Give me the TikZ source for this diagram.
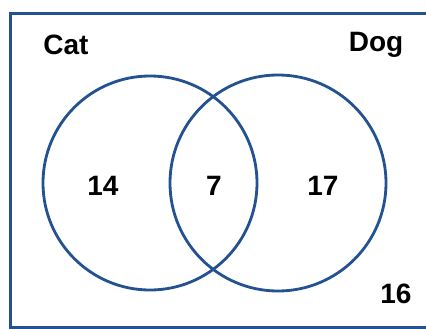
\documentclass[tikz,border=0pt]{standalone}
\usepackage{fontspec}
\setmainfont{Liberation Sans}
\definecolor{vblue}{HTML}{245190}
\tikzset{
  venn/.style={draw=vblue, line width=2.8pt},
  frame/.style={draw=vblue, line width=3pt},
  lbl/.style={font=\fontsize{28}{32}\selectfont\bfseries, text=black, inner sep=0pt}
}
\begin{document}
\begin{tikzpicture}[x=1pt,y=-1pt]
\useasboundingbox (0,0) rectangle (426,329);
\clip (0,0) rectangle (426,329);
\fill[white] (0,0) rectangle (426,329);
\path[frame] (10,14) rectangle (434,327);
\node[venn, circle, minimum size=214pt, inner sep=0pt] (cat) at (150,183) {};
\node[venn, circle, minimum size=216pt, inner sep=0pt] (dog) at (278,183) {};
\node[lbl] (tcat) at (66,45) {Cat};
\node[lbl] (tdog) at (376,45) {Dog};
\node[lbl] (n14) at (103,186) {14};
\node[lbl] (n7) at (214,186) {7};
\node[lbl] (n17) at (323,186) {17};
\node[lbl] (n16) at (396,294) {16};
\end{tikzpicture}
\end{document}
